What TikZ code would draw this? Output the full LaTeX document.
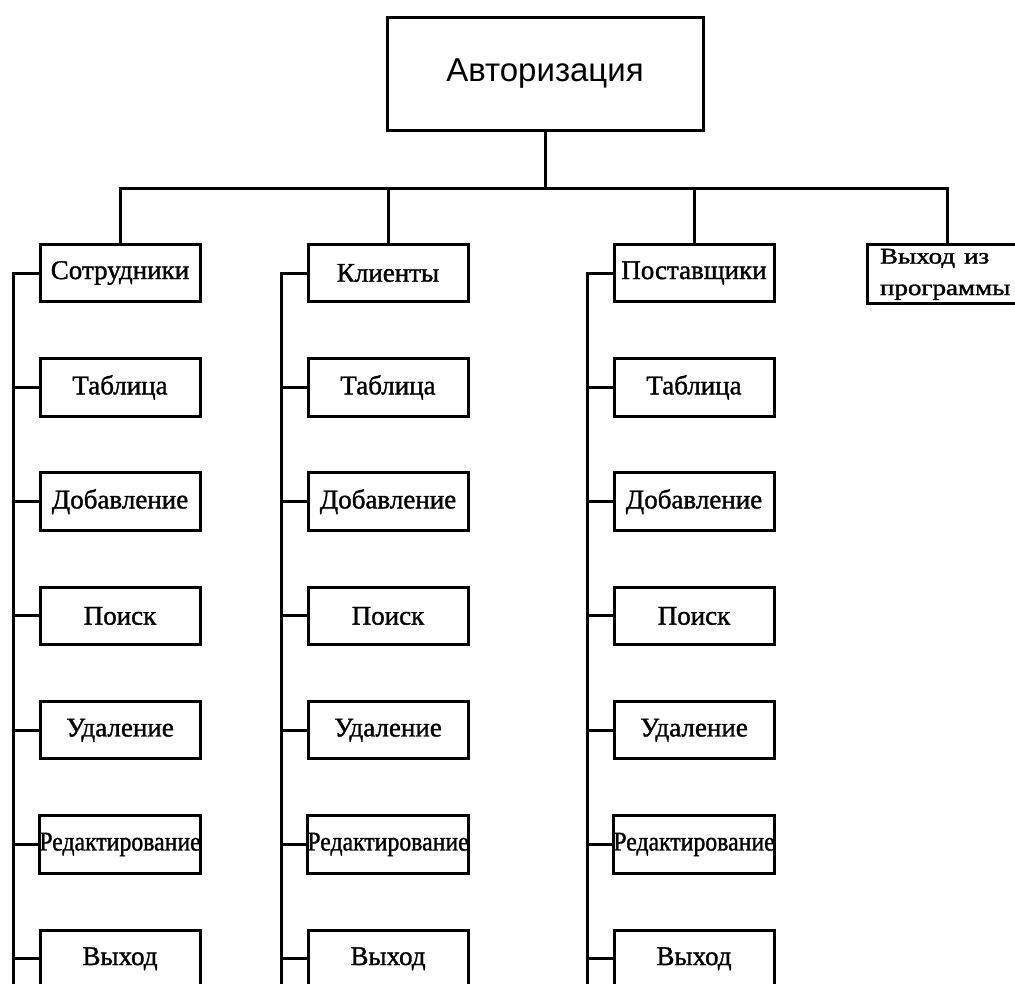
\documentclass[tikz,border=0pt]{standalone}
\usepackage{fontspec}
\setmainfont[FakeBold=1.3]{Liberation Serif}
\newfontfamily\headfont{Liberation Sans}
\usetikzlibrary{positioning}

\tikzset{
  box/.style={draw, line width=3pt, minimum width=160pt, minimum height=57.5pt,
    inner sep=0pt, outer sep=0pt, font=\fontsize{27}{32}\selectfont},
  headbox/.style={draw, line width=3pt, minimum width=316pt, minimum height=113pt,
    inner sep=0pt, outer sep=0pt, font=\headfont\fontsize{33}{40}\selectfont},
  link/.style={line width=3pt}
}

\begin{document}
\begin{tikzpicture}[x=1pt,y=-1pt]
\useasboundingbox (0,0) rectangle (1015,983);
\clip (0,0) rectangle (1015,983);

% top
\node[headbox] (auth) at (545,73.5) {Авторизация};
\coordinate (bus) at (0,188);
\coordinate (bottom) at (0,1000);
\draw[link] (auth.south) -- (auth.south |- bus);

% menu columns
\foreach \col/\cx/\lbl in {emp/120/Сотрудники, cli/388/Клиенты, sup/694/Поставщики} {
  \node[box] (\col0) at (\cx,273) {\lbl};
  \draw[link] (\col0.north) -- (\col0.north |- bus);
  \foreach \entry [count=\i] in {Таблица, Добавление, Поиск, Удаление,
      {\scalebox{0.88}[1]{Редактирование}}, Выход} {
    \pgfmathtruncatemacro\j{\i-1}
    \node[box, below=56.8pt of \col\j] (\col\i) {\entry};
    \draw[link] (\col\i.west) -- ++(-27,0);
  }
  \draw[link] (\col0.west) -- ++(-27,0) coordinate (\col rail) -- (\col rail |- bottom);
}

% exit
\node[box, align=left, text width=134pt, inner xsep=13pt] (quit) at (947,274)
  {\scalebox{1}[0.83]{\begin{tabular}{@{}l@{}}Выход из\\[6pt]программы\end{tabular}}};
\draw[link] (emp0.north) -- (emp0.north |- bus) -- (quit.north |- bus) -- (quit.north);
\end{tikzpicture}
\end{document}
